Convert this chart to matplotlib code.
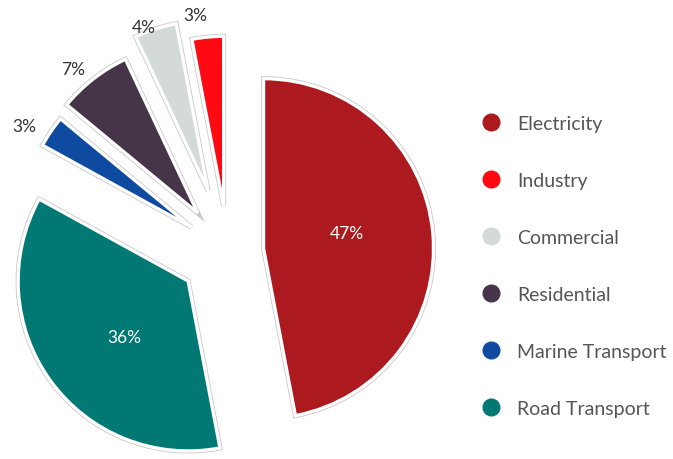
import numpy as np
import matplotlib
matplotlib.use("Agg")
import matplotlib.pyplot as plt
from matplotlib.lines import Line2D

# Data
categories = ["Electricity", "Industry", "Commercial", "Residential",
              "Marine Transport", "Road Transport"]
values = [47, 3, 4, 7, 3, 36]
colors = ["#AC191E", "#FF0A12", "#D3DAD7", "#463548", "#0D4AA0", "#007873"]
explode = [0.21, 0.27, 0.38, 0.29, 0.26, 0.29]
inside = [True, False, False, False, False, True]

plt.rcParams['font.family'] = ['Lato', 'DejaVu Sans']

W, H = 673, 460
fig = plt.figure(figsize=(W / 100, H / 100), dpi=100)
ax = fig.add_axes([0, 0, 1, 1])

R_PX = 170.0
CX, CY = 228.0, 253.0  # pixel centre (from top-left)

startangle = 90 - 360 * values[0] / sum(values)

common = dict(explode=explode, colors=colors, startangle=startangle,
              counterclock=True, radius=1.0)
# gray outer outline
ax.pie(values, wedgeprops=dict(edgecolor="#c8c8c8", linewidth=3.6,
                               joinstyle="miter"), **common)
# white band on top
wedges, _ = ax.pie(values, wedgeprops=dict(edgecolor="white", linewidth=2.4,
                                           joinstyle="miter"), **common)

for w, val, ins in zip(wedges, values, inside):
    mid = np.deg2rad((w.theta1 + w.theta2) / 2)
    txt = f"{val}%"
    if ins:
        cx, cy = w.center
        ang = mid + np.deg2rad(5)
        ax.text(cx + 0.5 * np.cos(ang), cy + 0.5 * np.sin(ang), txt,
                ha="center", va="center", color="white", fontsize=12.5)
    else:
        ang = mid + np.deg2rad(2.5)
        ax.text(1.41 * np.cos(ang), 1.41 * np.sin(ang), txt,
                ha="center", va="center", color="#333333", fontsize=12.5)

ax.set_xlim(-CX / R_PX, (W - CX) / R_PX)
ax.set_ylim(-(H - CY) / R_PX, CY / R_PX)
ax.set_aspect("equal")
ax.axis("off")

handles = [Line2D([0], [0], marker="o", linestyle="none", markersize=12,
                  markerfacecolor=c, markeredgecolor=c) for c in colors]
leg = ax.legend(handles, categories, loc="center left",
                bbox_to_anchor=(481 / W, 1 - 266.75 / H),
                bbox_transform=fig.transFigure, frameon=False,
                borderpad=0, borderaxespad=0, handlelength=1.0,
                handletextpad=0.85, labelspacing=2.06, fontsize=14)
for t in leg.get_texts():
    t.set_color("#555555")

fig.savefig("out.png", dpi=100)
